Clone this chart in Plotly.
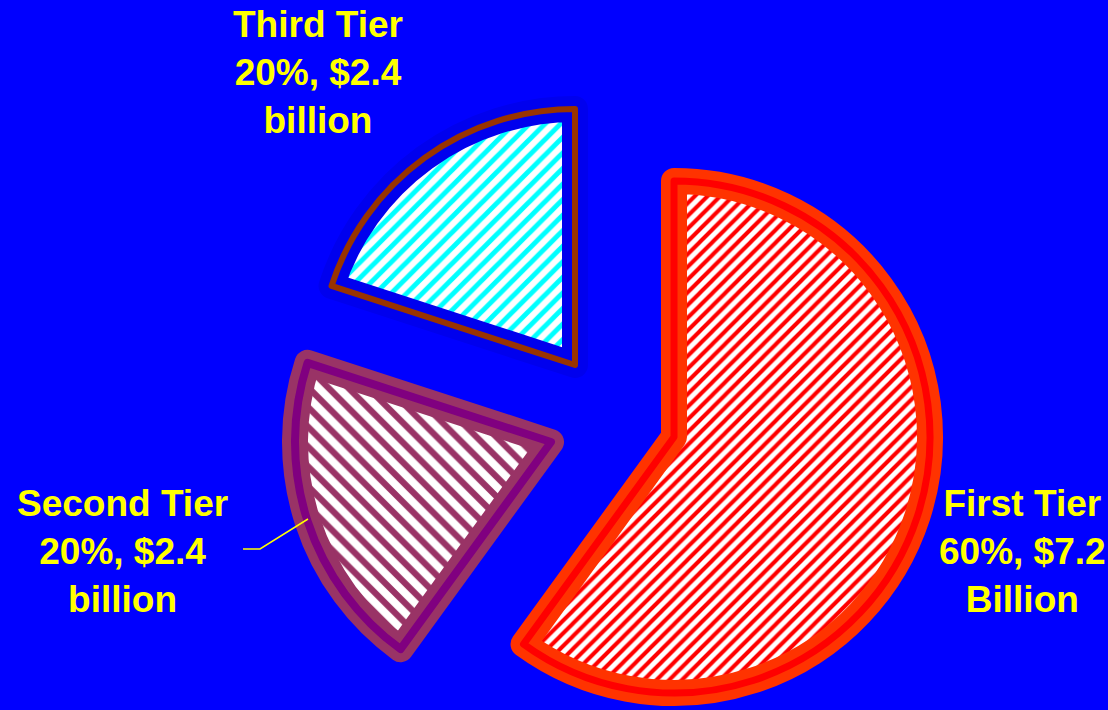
import plotly.graph_objects as go

# ---------------- data ----------------
tiers = ["First Tier", "Second Tier", "Third Tier"]
shares = [60, 20, 20]            # percent of total
dollars = [7.2, 2.4, 2.4]        # $ billion
units = ["Billion", "billion", "billion"]

# ---------------- styling / layout ----------------
W, H = 1108, 710
BG = "#0000FF"
CLEAR = "rgba(0,0,0,0)"

# pixel position of each exploded slice's vertex, and pie radius (px)
vertex = [(674, 437), (551, 442), (575, 365)]
radius = 256

outer_line = [("#FF3300", 26), ("#993366", 26), ("#0000EE", 26)]
inner_line = [("#FF0000", 7), ("#800080", 8), ("#993300", 6)]
hatch_shape = ["/", "\\", "/"]
hatch_color = ["#FF0000", "#993366", "#00FFFF"]
hatch_size = [9, 14, 11]
hatch_solid = [0.45, 0.45, 0.45]

label_pos = [(1022, 551), (122, 551), (318, 73)]


def domain_for(cx, cy, r):
    return dict(x=[(cx - r) / W, (cx + r) / W],
                y=[1 - (cy + r) / H, 1 - (cy - r) / H])


fig = go.Figure()

for k in range(len(tiers)):
    dom = domain_for(*vertex[k], radius)
    show = [i == k for i in range(len(tiers))]
    # base slice: hatch fill + thick outer border
    fig.add_trace(go.Pie(
        labels=tiers, values=shares, sort=False, direction="clockwise",
        rotation=0, domain=dom, textinfo="none", hoverinfo="skip",
        showlegend=False,
        marker=dict(
            colors=["white" if s else CLEAR for s in show],
            line=dict(color=[outer_line[k][0] if s else CLEAR for s in show],
                      width=[outer_line[k][1] if s else 0 for s in show]),
            pattern=dict(
                shape=[hatch_shape[k] if s else "" for s in show],
                fgcolor=[hatch_color[k] if s else CLEAR for s in show],
                bgcolor=["white" if s else CLEAR for s in show],
                size=hatch_size[k], solidity=hatch_solid[k],
                fillmode="replace"),
        ),
    ))
    # thin inner border line on top
    fig.add_trace(go.Pie(
        labels=tiers, values=shares, sort=False, direction="clockwise",
        rotation=0, domain=dom, textinfo="none", hoverinfo="skip",
        showlegend=False,
        marker=dict(
            colors=[CLEAR] * len(tiers),
            line=dict(color=[inner_line[k][0] if s else CLEAR for s in show],
                      width=[inner_line[k][1] if s else 0 for s in show]),
        ),
    ))

annotations = []
for k in range(len(tiers)):
    x, y = label_pos[k]
    annotations.append(dict(
        x=x / W, y=1 - y / H, xref="paper", yref="paper",
        xanchor="center", yanchor="middle", showarrow=False, align="center",
        text=f"{tiers[k]}<br>{shares[k]}%, ${dollars[k]}<br>{units[k]}",
        font=dict(family="Liberation Sans, Arial, sans-serif", size=37,
                  color="#FFFF00", weight="bold"),
    ))

# leader line for Second Tier label
pts = [(243, 549), (260, 549), (308, 519)]
path = "M " + " L ".join(f"{px / W:.5f},{1 - py / H:.5f}" for px, py in pts)

fig.update_layout(
    width=W, height=H,
    margin=dict(l=0, r=0, t=0, b=0),
    paper_bgcolor=BG, plot_bgcolor=BG,
    annotations=annotations,
    shapes=[dict(type="path", path=path, xref="paper", yref="paper",
                 line=dict(color="#FFFF00", width=1.5))],
)

fig.write_html("out.html")
